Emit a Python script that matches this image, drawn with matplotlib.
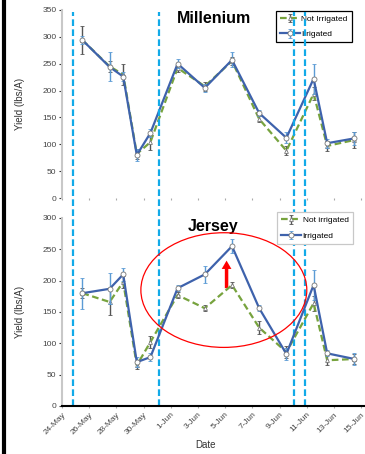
import matplotlib.pyplot as plt
import matplotlib.patches as mpatches
from matplotlib.lines import Line2D
import numpy as np
import pandas as pd

plt.rcParams['font.family'] = ['Liberation Sans', 'DejaVu Sans']

# ---- data ----
dates = ['2013-05-25', '2013-05-27', '2013-05-28', '2013-05-29', '2013-05-30',
         '2013-06-01', '2013-06-03', '2013-06-05', '2013-06-07', '2013-06-09',
         '2013-06-11', '2013-06-12', '2013-06-14']
tick_labels = ['24-May', '26-May', '28-May', '30-May', '1-Jun', '3-Jun',
               '5-Jun', '7-Jun', '9-Jun', '11-Jun', '13-Jun', '15-Jun']

mil_irr = [294, 244, 226, 80, 121, 250, 205, 257, 158, 112, 222, 102, 111]
mil_irr_err = [8, 27, 8, 12, 8, 8, 8, 14, 6, 10, 28, 8, 12]
mil_not = [294, 245, 230, 82, 104, 242, 208, 255, 147, 88, 194, 97, 108]
mil_not_err = [26, 10, 20, 10, 14, 8, 8, 8, 6, 8, 12, 10, 15]

jer_irr = [180, 187, 210, 70, 78, 188, 210, 255, 156, 83, 193, 84, 75]
jer_irr_err = [25, 25, 10, 8, 6, 5, 14, 11, 5, 10, 24, 5, 10]
jer_not = [180, 166, 198, 65, 102, 177, 156, 193, 125, 86, 164, 73, 75]
jer_not_err = [8, 20, 10, 6, 10, 5, 5, 5, 10, 10, 12, 8, 8]

# irrigation event dates (days after 24-May)
events = [0.8, 7.1, 17.05, 17.9]

start = pd.Timestamp('2013-05-24')
x = np.array([(pd.Timestamp(d) - start).days for d in dates]) + 0.5
ticks = np.arange(0, 2 * len(tick_labels), 2)

blue = '#3E62AC'
green = '#77A33E'
vcol = '#12AAE8'

fig = plt.figure(figsize=(3.65, 4.54), dpi=100)
ax1 = fig.add_axes([62/365, 1 - 198/454, 303/365, 188/454])
ax2 = fig.add_axes([62/365, 1 - 406/454, 303/365, 188/454])

def panel(ax, irr, irr_err, nirr, nirr_err, ymax, title, lab_a, frame_col):
    ax.errorbar(x, nirr, yerr=nirr_err, color=green, ls=(0, (3, 1.6)), lw=1.6,
                marker='^', ms=2.8, mfc='white', mec='#777777', mew=0.6,
                ecolor='#555555', elinewidth=1, capsize=1.2, label=lab_a, zorder=3)
    ax.errorbar(x, irr, yerr=irr_err, color=blue, lw=1.6,
                marker='o', ms=3.6, mfc='white', mec='#777777', mew=0.6,
                ecolor='#5B9BD5', elinewidth=1, capsize=1.2, label='Irrigated', zorder=4)
    ax.set_xlim(0, 303/13.6)
    ax.set_ylim(0, ymax)
    ax.set_yticks(np.arange(0, ymax + 1, 50))
    ax.set_xticks(ticks)
    for s in ['top', 'right']:
        ax.spines[s].set_visible(False)
    ax.spines['left'].set_color('#C8C8C8')
    ax.spines['left'].set_linewidth(1.5)
    ax.tick_params(axis='y', labelsize=6, length=2, width=0.8, color='#333333',
                   labelcolor='#444444', pad=2)
    ax.set_ylabel('Yield (lbs/A)', fontsize=7, color='#333333')
    ax.yaxis.set_label_coords(-0.122, 0.5)
    ax.text(0.5, 0.957, title, transform=ax.transAxes, ha='center', va='center',
            fontsize=11.5, fontweight='bold')
    leg = ax.legend(loc='upper right', fontsize=6, handlelength=2.4,
                    handletextpad=0.2, borderpad=0.5, labelspacing=0.9,
                    fancybox=False, framealpha=1, borderaxespad=0)
    leg.get_frame().set_edgecolor(frame_col)
    leg.get_frame().set_linewidth(0.9)
    return leg

leg1 = panel(ax1, mil_irr, mil_irr_err, mil_not, mil_not_err, 350, 'Millenium',
             'Not Irrigated', 'black')
leg1.set_bbox_to_anchor((0.957, 0.995), transform=ax1.transAxes)
leg2 = panel(ax2, jer_irr, jer_irr_err, jer_not, jer_not_err, 300, 'Jersey',
             'Not irrigated', '#C8C8C8')
leg2.set_bbox_to_anchor((0.96, 1.03), transform=ax2.transAxes)

# top panel: no x axis line, only faint tick dots
ax1.spines['bottom'].set_visible(False)
ax1.tick_params(axis='x', labelbottom=False, length=1.5, color='#AAAAAA', direction='out')

ax2.spines['bottom'].set_color('black')
ax2.spines['bottom'].set_linewidth(1.5)
ax2.set_xticklabels(tick_labels, rotation=45, ha='right', rotation_mode='anchor')
ax2.tick_params(axis='x', labelsize=6, length=1.5, color='#AAAAAA',
                labelcolor='#444444', pad=2)
ax2.set_xlabel('Date', fontsize=7, color='#333333')
ax2.xaxis.set_label_coords(0.472, -0.183)

# irrigation dates as vertical dashed lines through both panels
for e in events:
    ax2.axvline(e, ymin=0, ymax=(406 - 12) / 188, color=vcol, lw=1.6,
                ls=(0, (3, 1.5)), clip_on=False, zorder=1)

# highlight of the Jersey gap
ell = mpatches.Ellipse((11.9, 185), 12.2, 183, fill=False, edgecolor='red',
                       lw=0.9, clip_on=False, zorder=5)
ax2.add_patch(ell)
ax2.annotate('', xy=(12.1, 232), xytext=(12.1, 188),
             arrowprops=dict(color='red', width=2.5, headwidth=7, headlength=6, lw=0))

fig.add_artist(Line2D([4/365, 4/365], [0, 1], color='black', lw=3,
                      transform=fig.transFigure))

fig.savefig('out.png', dpi=100)
